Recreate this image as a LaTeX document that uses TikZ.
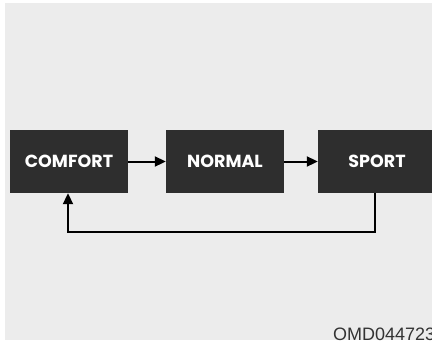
\documentclass[tikz,border=0pt]{standalone}
\usepackage{fontspec}
\setmainfont{Liberation Sans}
\newfontfamily\modefont{Poppins}
\usetikzlibrary{positioning,arrows.meta,calc}
\definecolor{panel}{HTML}{ECECEC}
\definecolor{modebox}{HTML}{2E2E2E}
\definecolor{codegray}{HTML}{333333}

\begin{document}
\begin{tikzpicture}[
        x=1pt, y=-1pt,
        modenode/.style={rectangle, draw=none, fill=modebox, minimum
        width=118pt, minimum height=63pt, inner sep=0pt, text=white,
        font=\modefont\bfseries\fontsize{17.5}{20}\selectfont},
        switch/.style={-{Triangle[length=11pt, width=10pt]}, line
        width=2pt, black},
      ]
      \useasboundingbox (0,0) rectangle (432,341);
      \clip (0,0) rectangle (432,341);
      % Background panel
      \fill[panel] (5,3) rectangle (440,340);

      % Drive modes
      \node[modenode] (comfort) at (69,161.5) {COMFORT};
      \node[modenode] (normal) at (225,161.5) {NORMAL};
      \node[modenode] (sport) at (377,161.5) {SPORT};

      \draw[switch] (comfort) -- (normal);
      \draw[switch] (normal) -- (sport);

      % Return path
      \coordinate (turnR) at (375,232);
      \coordinate (turnL) at (68,232);
      \draw[switch] (sport.south -| turnR) -- (turnR) -- (turnL)
      -- (comfort.south -| turnL);

      % Figure code
      \node[font=\fontsize{18}{20}\selectfont, text=codegray, anchor=base
      west, inner sep=0pt] (figcode) at (333,340) {OMD044723};
    \end{tikzpicture}
\end{document}
